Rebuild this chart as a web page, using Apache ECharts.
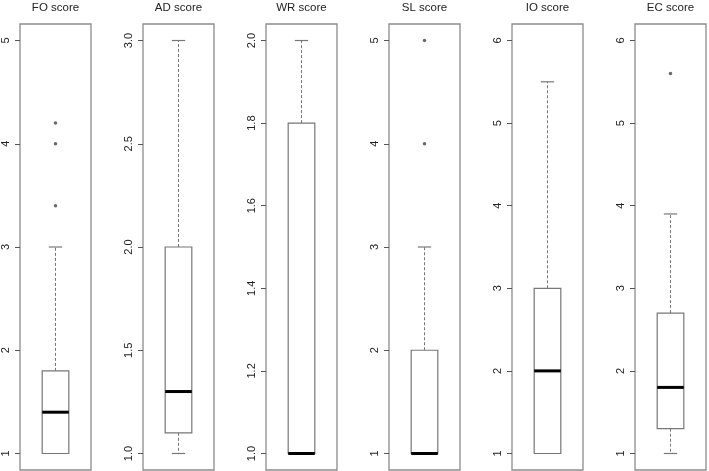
<!DOCTYPE html>
<html>
<head>
<meta charset="utf-8">
<script src="https://cdn.jsdelivr.net/npm/echarts@6/dist/echarts.min.js"></script>
<style>
html,body{margin:0;padding:0;background:#fff;}
#chart{width:709px;height:471px;}
</style>
</head>
<body>
<div id="chart"></div>
<script>
// ---- data ----
var categories = ['FO score', 'AD score', 'WR score', 'SL score', 'IO score', 'EC score'];
var whiskerLow  = [1.0, 1.0, 1.0, 1.0, 1.0, 1.0];
var q1          = [1.0, 1.1, 1.0, 1.0, 1.0, 1.3];
var median      = [1.4, 1.3, 1.0, 1.0, 2.0, 1.8];
var q3          = [1.8, 2.0, 1.8, 2.0, 3.0, 2.7];
var whiskerHigh = [3.0, 3.0, 2.0, 3.0, 5.5, 3.9];
var outliers    = [[3.4, 4.0, 4.2], [], [], [4, 5], [], [5.6]];
var tickValues  = [
  [1, 2, 3, 4, 5],
  [1.0, 1.5, 2.0, 2.5, 3.0],
  [1.0, 1.2, 1.4, 1.6, 1.8, 2.0],
  [1, 2, 3, 4, 5],
  [1, 2, 3, 4, 5, 6],
  [1, 2, 3, 4, 5, 6]
];
var tickDecimals = [0, 1, 1, 0, 0, 0];

// ---- layout ----
var panelLeft0 = 20, panelStep = 123, panelWidth = 71, panelTop = 24, panelHeight = 446;
var boxFrac = 0.375;

var grids = [], xAxes = [], yAxes = [], series = [], titles = [];

categories.forEach(function (cat, i) {
  var ticks = tickValues[i];
  var lo = ticks[0], hi = ticks[ticks.length - 1];
  var pad = (hi - lo) * 0.04;
  var left = panelLeft0 + i * panelStep;
  grids.push({
    left: left, top: panelTop, width: panelWidth, height: panelHeight,
    show: true, borderColor: '#8c8c8c', borderWidth: 1.3, backgroundColor: 'transparent',
    containLabel: false
  });
  titles.push({
    text: cat, left: left + panelWidth / 2, top: 2, padding: 0, textAlign: 'center',
    textStyle: { fontSize: 11.5, fontWeight: 'normal', color: '#222', fontFamily: 'Liberation Sans, Arial, sans-serif' }
  });
  xAxes.push({ type: 'category', gridIndex: i, data: [cat], show: false });
  (function (dec) {
    yAxes.push({
      type: 'value', gridIndex: i, min: lo - pad, max: hi + pad,
      axisLine: { show: false },
      splitLine: { show: false },
      axisTick: { show: true, length: 5, customValues: ticks, lineStyle: { color: '#555', width: 1 } },
      axisLabel: {
        customValues: ticks, rotate: 90, margin: 9, fontSize: 11, color: '#222',
        fontFamily: 'Liberation Sans, Arial, sans-serif',
        formatter: function (v) { return Number(v).toFixed(dec); }
      }
    });
  })(tickDecimals[i]);

  series.push({
    type: 'custom', xAxisIndex: i, yAxisIndex: i,
    data: [[0, whiskerLow[i], q1[i], median[i], q3[i], whiskerHigh[i]]],
    renderItem: function (params, api) {
      var x = api.value(0);
      var band = api.size([1, 0])[0];
      var bw = band * boxFrac;
      var pLow = api.coord([x, api.value(1)]);
      var pQ1 = api.coord([x, api.value(2)]);
      var pMed = api.coord([x, api.value(3)]);
      var pQ3 = api.coord([x, api.value(4)]);
      var pHigh = api.coord([x, api.value(5)]);
      var cx = pMed[0];
      var boxColor = '#777';
      var children = [];
      // upper whisker
      if (pHigh[1] < pQ3[1] - 0.5) {
        children.push({ type: 'line', shape: { x1: cx, y1: pQ3[1], x2: cx, y2: pHigh[1] },
          style: { stroke: boxColor, lineWidth: 1, lineDash: [3, 2] } });
        children.push({ type: 'line', shape: { x1: cx - bw / 4, y1: pHigh[1], x2: cx + bw / 4, y2: pHigh[1] },
          style: { stroke: boxColor, lineWidth: 1.2 } });
      }
      // lower whisker
      if (pLow[1] > pQ1[1] + 0.5) {
        children.push({ type: 'line', shape: { x1: cx, y1: pQ1[1], x2: cx, y2: pLow[1] },
          style: { stroke: boxColor, lineWidth: 1, lineDash: [3, 2] } });
        children.push({ type: 'line', shape: { x1: cx - bw / 4, y1: pLow[1], x2: cx + bw / 4, y2: pLow[1] },
          style: { stroke: boxColor, lineWidth: 1.2 } });
      }
      // box
      children.push({ type: 'rect', shape: { x: cx - bw / 2, y: pQ3[1], width: bw, height: pQ1[1] - pQ3[1] },
        style: { fill: '#fff', stroke: boxColor, lineWidth: 1.2 } });
      // median
      children.push({ type: 'line', shape: { x1: cx - bw / 2, y1: pMed[1], x2: cx + bw / 2, y2: pMed[1] },
        style: { stroke: '#000', lineWidth: 3 } });
      return { type: 'group', children: children };
    },
    z: 2
  });

  series.push({
    type: 'scatter', xAxisIndex: i, yAxisIndex: i,
    data: outliers[i].map(function (v) { return [0, v]; }),
    symbol: 'circle', symbolSize: 3.5,
    itemStyle: { color: '#444' },
    z: 3
  });
});

var chart = echarts.init(document.getElementById('chart'), null, { renderer: 'canvas' });
chart.setOption({
  animation: false,
  backgroundColor: '#fff',
  title: titles,
  grid: grids,
  xAxis: xAxes,
  yAxis: yAxes,
  series: series
});
</script>
</body>
</html>
